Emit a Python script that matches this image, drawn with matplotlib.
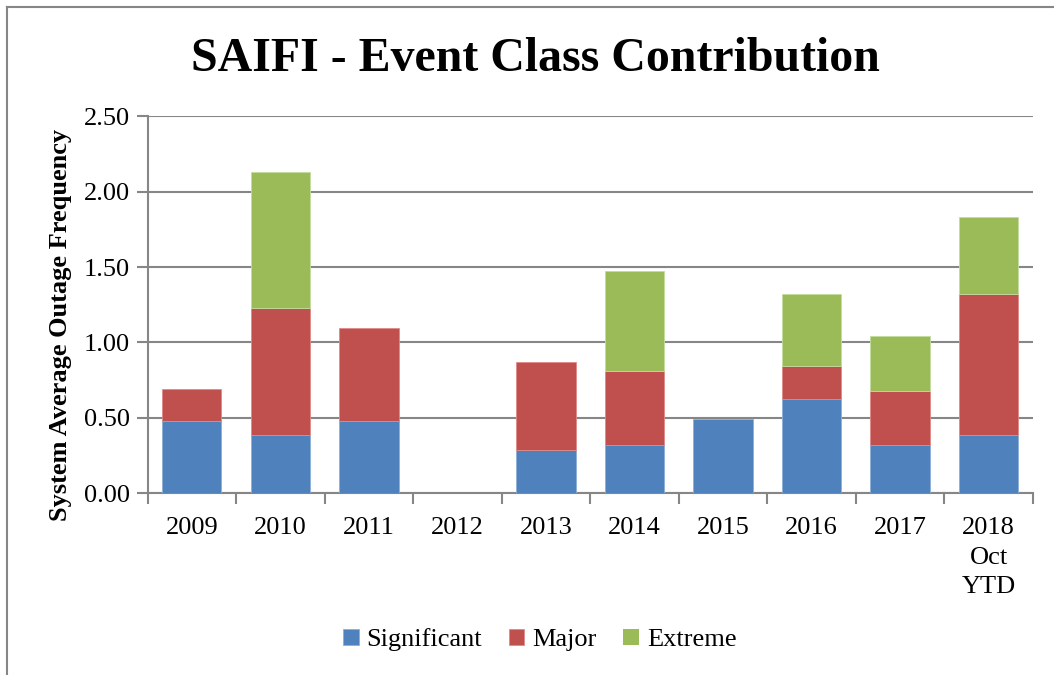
import matplotlib
matplotlib.use("Agg")
import matplotlib.pyplot as plt
import numpy as np
from matplotlib.lines import Line2D
from matplotlib.font_manager import FontProperties

plt.rcParams['font.family'] = ['Liberation Serif', 'DejaVu Serif']

categories = ["2009", "2010", "2011", "2012", "2013", "2014", "2015", "2016", "2017", "2018\nOct\nYTD"]
significant = [0.48, 0.385, 0.48, 0.0, 0.287, 0.318, 0.495, 0.623, 0.32, 0.385]
major = [0.212, 0.846, 0.618, 0.0, 0.582, 0.495, 0.0, 0.223, 0.36, 0.939]
extreme = [0.0, 0.898, 0.0, 0.0, 0.0, 0.661, 0.0, 0.478, 0.363, 0.51]
series_names = ["Significant", "Major", "Extreme"]
colors = ["#4F81BD", "#C0504D", "#9BBB59"]
edge_colors = ["#8eb0d8", "#e08a88", "#c4dca0"]

fig = plt.figure(figsize=(10.54, 6.75), dpi=100)
ax = fig.add_axes([0.140, 0.269, 0.840, 0.559])

x = np.arange(len(categories))
w = 0.67
sig = np.array(significant)
maj = np.array(major)
ext = np.array(extreme)
bottoms = [np.zeros_like(sig), sig, sig + maj]
for vals, bot, name, c, ec in zip([sig, maj, ext], bottoms, series_names, colors, edge_colors):
    lw = [0.6 if v > 0 else 0.0 for v in vals]
    ax.bar(x, vals, w, bottom=bot, color=c, edgecolor=ec, linewidth=lw, label=name, zorder=3)

ax.set_xlim(-0.5, len(categories) - 0.5)
ax.set_ylim(0, 2.5)
ax.set_yticks(np.arange(0, 2.51, 0.5))
ax.set_yticklabels([f"{v:.2f}" for v in np.arange(0, 2.51, 0.5)], fontsize=19)
ax.yaxis.grid(True, color="#868686", linewidth=1.5, zorder=0)
ax.set_axisbelow(True)

ax.set_xticks(x)
ax.set_xticklabels(categories, fontsize=19, linespacing=1.45, va="top")
ax.set_xticks(np.arange(-0.5, len(categories), 1.0), minor=True)
ax.tick_params(axis="x", which="major", length=0, pad=17)
ax.tick_params(axis="x", which="minor", length=8, width=1.5, color="#868686", direction="out")
ax.tick_params(axis="y", length=8, width=1.5, color="#868686", direction="out", pad=5)

for s in ["top", "right"]:
    ax.spines[s].set_visible(False)
ax.spines["left"].set_color("#868686")
ax.spines["left"].set_linewidth(1.5)
ax.spines["bottom"].set_color("#868686")
ax.spines["bottom"].set_linewidth(1.5)

ax.set_ylabel("System Average Outage Frequency", fontsize=19, fontweight="bold")
ax.yaxis.set_label_coords(-0.085, 0.446)

fig.text(0.508, 0.912, "SAIFI - Event Class Contribution", fontsize=34.5, fontweight="bold",
         ha="center", va="center")

leg = fig.legend(loc="center", bbox_to_anchor=(0.512, 0.052), ncol=3, frameon=False,
                 prop=FontProperties(family=["Liberation Serif", "DejaVu Serif"], size=19),
                 handlelength=0.6, handleheight=0.6, handletextpad=0.3,
                 columnspacing=1.0)

# chart border (top and left)
fig.add_artist(Line2D([0.0066, 0.0066], [0.0, 0.9896], transform=fig.transFigure, color="#868686", linewidth=1.5))
fig.add_artist(Line2D([0.0066, 1.0], [0.9896, 0.9896], transform=fig.transFigure, color="#868686", linewidth=1.5))

fig.savefig("out.png", dpi=100)
